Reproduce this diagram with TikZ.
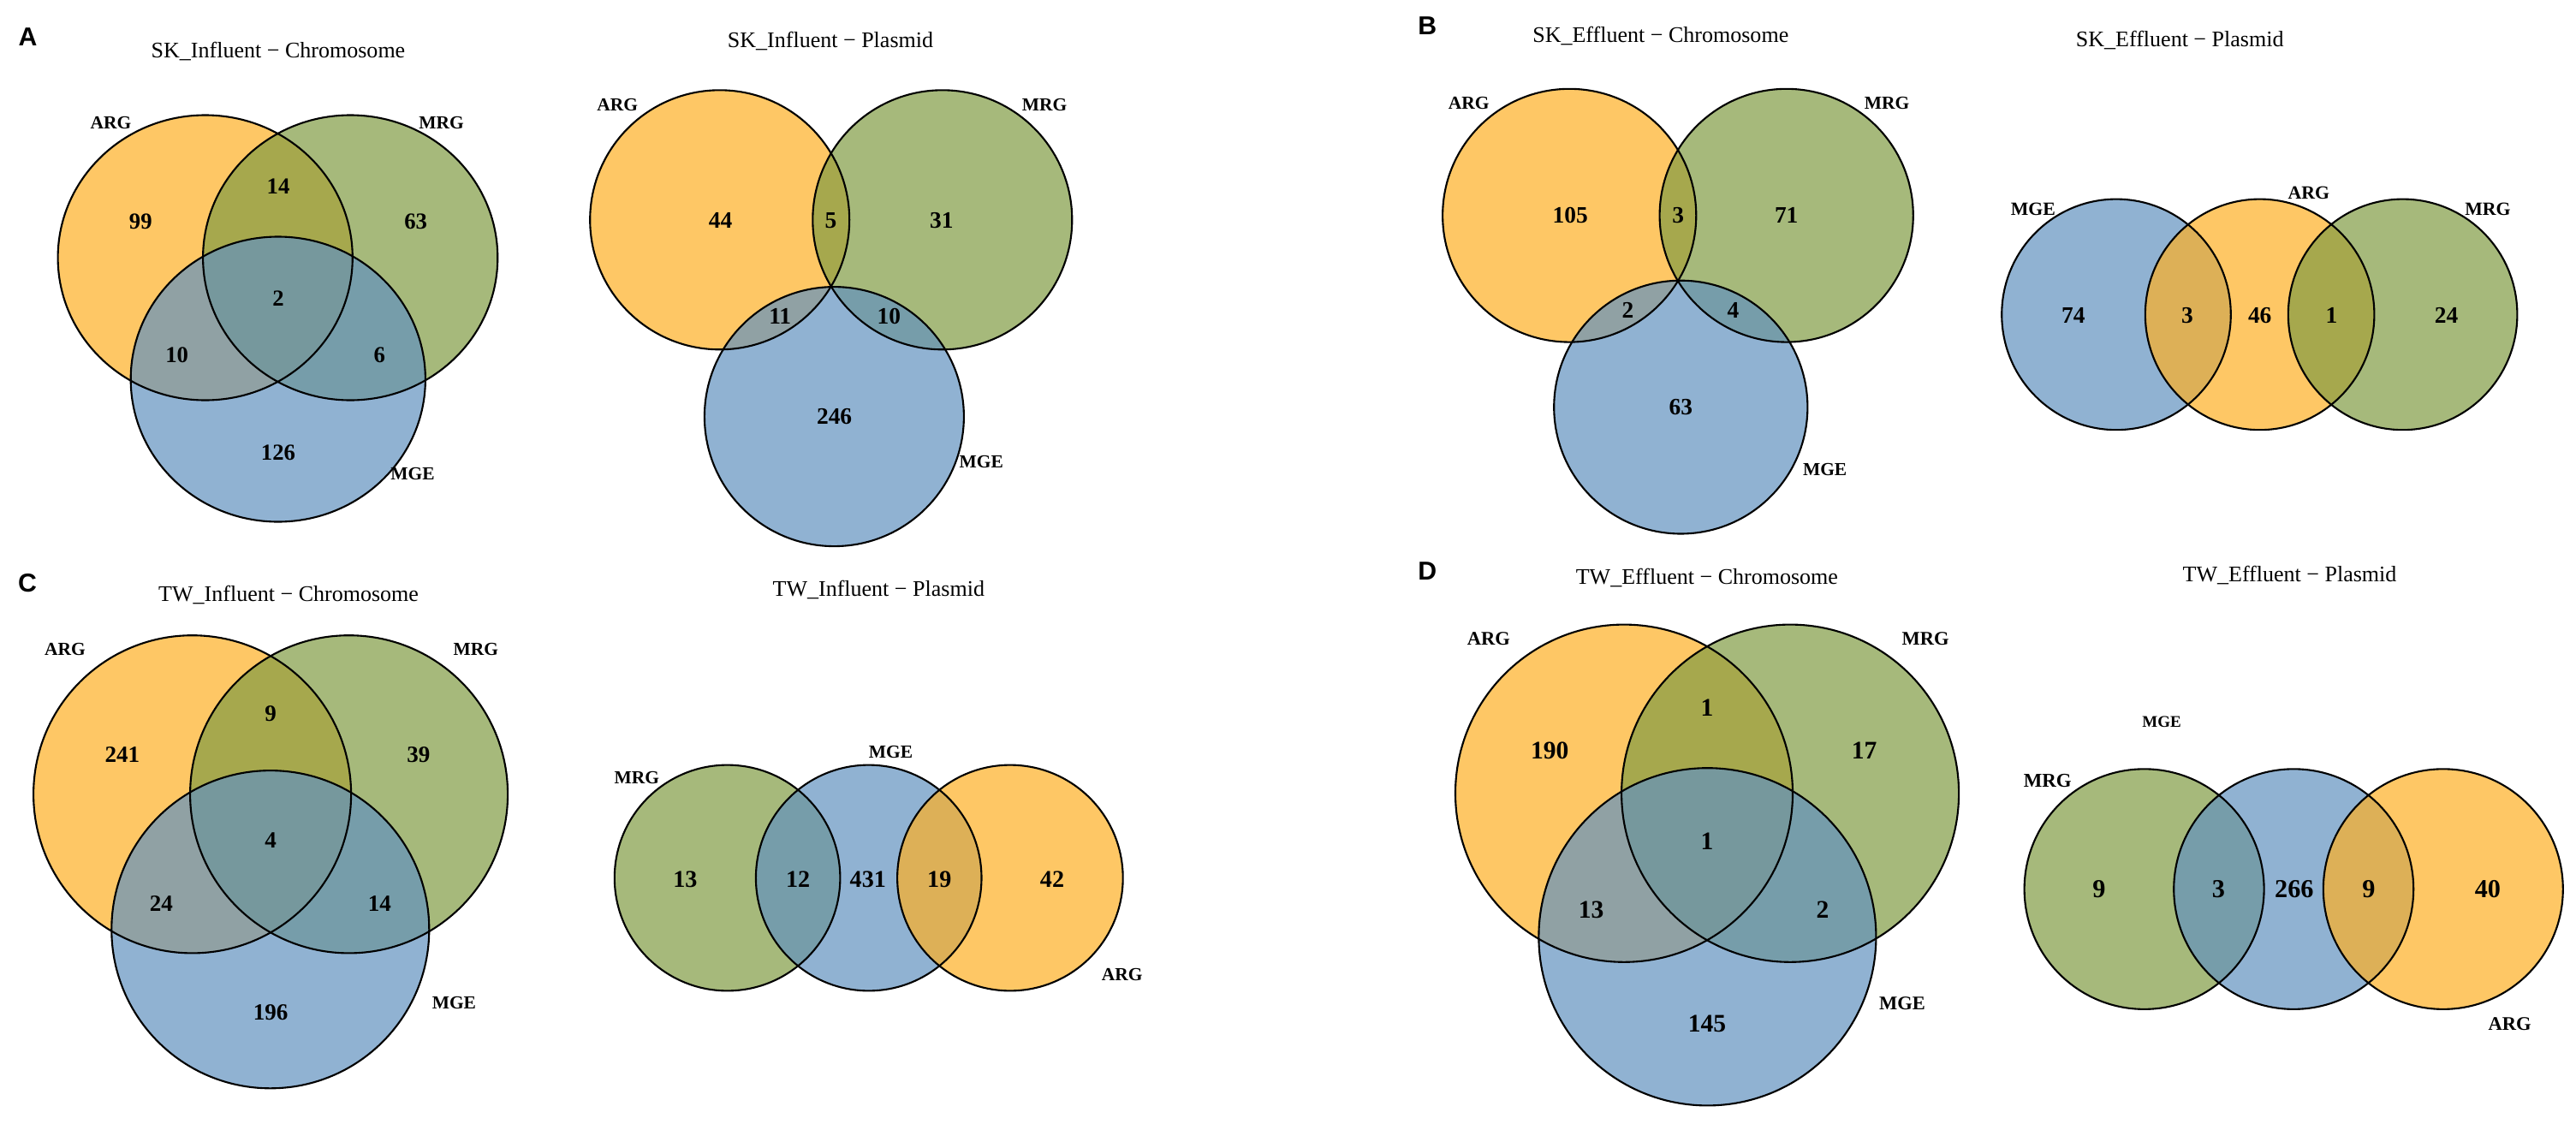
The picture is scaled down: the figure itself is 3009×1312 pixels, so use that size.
\documentclass[tikz,border=0pt]{standalone}
\usepackage{fontspec}
\setmainfont{Liberation Serif}
\newfontfamily\panelfont{Liberation Sans}
\definecolor{argc}{RGB}{254,176,36}
\definecolor{mrgc}{RGB}{129,156,68}
\definecolor{mgec}{RGB}{98,146,191}
\newcommand\vennfill[5]{\fill[#1,fill opacity=0.7] (#2,#3) ellipse [x radius=#4cm, y radius=#5cm];}
\newcommand\vennline[4]{\draw[outl] (#1,#2) ellipse [x radius=#3cm, y radius=#4cm];}
\begin{document}
\begin{tikzpicture}[x=0.01cm,y=-0.01cm,
  outl/.style={draw=black,line width=0.6pt},
  ttl/.style={font=\fontsize{7.4}{8}\selectfont,anchor=base,inner sep=0pt,yshift=-2.45pt},
  num/.style={font=\bfseries\fontsize{#1}{#1}\selectfont,anchor=base,inner sep=0pt,yshift={-0.338*#1pt}},
  lab/.style={font=\bfseries\fontsize{#1}{#1}\selectfont,anchor=base,inner sep=0pt,yshift={-0.335*#1pt}},
  letter/.style={font=\panelfont\bfseries\fontsize{8.6}{9}\selectfont,anchor=base,inner sep=0pt,yshift=-3.1pt}]
\fill[white] (0,0) rectangle (3009,1312);
\useasboundingbox (0,0) rectangle (3009,1312);

% ---------- Panel A: chromosome ----------
\vennfill{argc}{239.7}{301.0}{1.72}{1.664}
\vennfill{mrgc}{409.2}{301.0}{1.72}{1.664}
\vennfill{mgec}{324.8}{443.0}{1.72}{1.664}
\vennline{239.7}{301.0}{1.72}{1.664}
\vennline{409.2}{301.0}{1.72}{1.664}
\vennline{324.8}{443.0}{1.72}{1.664}
\node[letter] (la) at (32.6,42.1) {A};
\node[ttl] (ta) at (325,58.9) {SK\_Influent − Chromosome};
\node[lab=6.1] (aL1) at (129.5,143.1) {ARG};
\node[lab=6.1] (aL2) at (515.6,143.1) {MRG};
\node[lab=6.1] (aL3) at (482.1,553.5) {MGE};
\node[num=7.6] (a1) at (164.3,258.9) {99};
\node[num=7.6] (a2) at (325,217.6) {14};
\node[num=7.6] (a3) at (485.7,258.9) {63};
\node[num=7.6] (a4) at (325,348.5) {2};
\node[num=7.6] (a5) at (206.7,414.6) {10};
\node[num=7.6] (a6) at (443.3,414.6) {6};
\node[num=7.6] (a7) at (325,528.2) {126};

% ---------- Panel A: plasmid ----------
\vennfill{argc}{840.7}{256.8}{1.514}{1.514}
\vennfill{mrgc}{1100.8}{256.8}{1.514}{1.514}
\vennfill{mgec}{974.4}{486.6}{1.514}{1.514}
\vennline{840.7}{256.8}{1.514}{1.514}
\vennline{1100.8}{256.8}{1.514}{1.514}
\vennline{974.4}{486.6}{1.514}{1.514}
\node[ttl] (tap) at (970,47.1) {SK\_Influent − Plasmid};
\node[lab=6.1] (apL1) at (721.3,122.1) {ARG};
\node[lab=6.1] (apL2) at (1220,122.1) {MRG};
\node[lab=6.1] (apL3) at (1146.2,539.6) {MGE};
\node[num=7.8] (ap1) at (841.5,257.6) {44};
\node[num=7.8] (ap2) at (970.4,257.6) {5};
\node[num=7.8] (ap3) at (1099.8,257.6) {31};
\node[num=7.8] (ap4) at (911.2,369.6) {11};
\node[num=7.8] (ap5) at (1038.4,369.6) {10};
\node[num=7.8] (ap6) at (974.6,486.2) {246};

% ---------- Panel B: chromosome ----------
\vennfill{argc}{1833.2}{251.7}{1.48}{1.478}
\vennfill{mrgc}{2086.7}{251.7}{1.48}{1.478}
\vennfill{mgec}{1963.3}{475.6}{1.48}{1.478}
\vennline{1833.2}{251.7}{1.48}{1.478}
\vennline{2086.7}{251.7}{1.48}{1.478}
\vennline{1963.3}{475.6}{1.48}{1.478}
\node[letter] (lb) at (1667.3,29.5) {B};
\node[ttl] (tb) at (1939.8,40.8) {SK\_Effluent − Chromosome};
\node[lab=6.1] (bL1) at (1715.8,120) {ARG};
\node[lab=6.1] (bL2) at (2204.1,120) {MRG};
\node[lab=6.1] (bL3) at (2131.6,548) {MGE};
\node[num=7.8] (b1) at (1834.2,251.7) {105};
\node[num=7.8] (b2) at (1960.2,251.7) {3};
\node[num=7.8] (b3) at (2086.7,251.7) {71};
\node[num=7.8] (b4) at (1901.5,362) {2};
\node[num=7.8] (b5) at (2024.5,362) {4};
\node[num=7.8] (b6) at (1963.3,474.8) {63};

% ---------- Panel B: plasmid ----------
\vennfill{mgec}{2472}{367.4}{1.337}{1.347}
\vennfill{argc}{2639.6}{367.4}{1.337}{1.347}
\vennfill{mrgc}{2806.6}{367.4}{1.337}{1.347}
\vennline{2472}{367.4}{1.337}{1.347}
\vennline{2639.6}{367.4}{1.337}{1.347}
\vennline{2806.6}{367.4}{1.337}{1.347}
\node[ttl] (tbp) at (2546.2,46.3) {SK\_Effluent − Plasmid};
\node[lab=6.2] (bpL1) at (2374.9,244.1) {MGE};
\node[lab=6.2] (bpL2) at (2696.8,225.2) {ARG};
\node[lab=6.2] (bpL3) at (2905.9,244.1) {MRG};
\node[num=7.8] (bp1) at (2421.8,368.3) {74};
\node[num=7.8] (bp2) at (2555,368.3) {3};
\node[num=7.8] (bp3) at (2639.7,368.3) {46};
\node[num=7.8] (bp4) at (2723.4,368.3) {1};
\node[num=7.8] (bp5) at (2857.5,368.3) {24};

% ---------- Panel C: chromosome ----------
\vennfill{argc}{224.6}{927.8}{1.854}{1.855}
\vennfill{mrgc}{407.6}{927.8}{1.854}{1.855}
\vennfill{mgec}{315.8}{1085.7}{1.854}{1.855}
\vennline{224.6}{927.8}{1.854}{1.855}
\vennline{407.6}{927.8}{1.854}{1.855}
\vennline{315.8}{1085.7}{1.854}{1.855}
\node[letter] (lc) at (32.1,680.7) {C};
\node[ttl] (tc) at (337.1,693.6) {TW\_Influent − Chromosome};
\node[lab=6.1] (cL1) at (75.9,757.9) {ARG};
\node[lab=6.1] (cL2) at (555.8,757.9) {MRG};
\node[lab=6.1] (cL3) at (530.4,1171.4) {MGE};
\node[num=7.7] (c1) at (142.9,880.9) {241};
\node[num=7.7] (c2) at (316.1,833.7) {9};
\node[num=7.7] (c3) at (488.8,880.9) {39};
\node[num=7.7] (c4) at (316.1,981.6) {4};
\node[num=7.7] (c5) at (188.4,1054.9) {24};
\node[num=7.7] (c6) at (443.3,1054.9) {14};
\node[num=7.7] (c7) at (316.1,1182.1) {196};

% ---------- Panel C: plasmid ----------
\vennfill{mrgc}{849.6}{1025.5}{1.317}{1.318}
\vennfill{mgec}{1014.7}{1025.5}{1.317}{1.318}
\vennfill{argc}{1179.9}{1025.5}{1.317}{1.318}
\vennline{849.6}{1025.5}{1.317}{1.318}
\vennline{1014.7}{1025.5}{1.317}{1.318}
\vennline{1179.9}{1025.5}{1.317}{1.318}
\node[ttl] (tcp) at (1026.3,688) {TW\_Influent − Plasmid};
\node[lab=6.1] (cpL1) at (743.8,907.9) {MRG};
\node[lab=6.1] (cpL2) at (1040.6,878.7) {MGE};
\node[lab=6.1] (cpL3) at (1310.7,1138) {ARG};
\node[num=8] (cp1) at (800.4,1026.6) {13};
\node[num=8] (cp2) at (932.1,1026.6) {12};
\node[num=8] (cp3) at (1013.8,1026.6) {431};
\node[num=8] (cp4) at (1097.3,1026.6) {19};
\node[num=8] (cp5) at (1229,1026.6) {42};

% ---------- Panel D: chromosome ----------
\vennfill{argc}{1897}{926.7}{1.969}{1.97}
\vennfill{mrgc}{2091.1}{926.7}{1.969}{1.97}
\vennfill{mgec}{1994.4}{1094.3}{1.969}{1.97}
\vennline{1897}{926.7}{1.969}{1.97}
\vennline{2091.1}{926.7}{1.969}{1.97}
\vennline{1994.4}{1094.3}{1.969}{1.97}
\node[letter] (ld) at (1667.3,666.6) {D};
\node[ttl] (td) at (1993.9,673.4) {TW\_Effluent − Chromosome};
\node[lab=6.4] (dL1) at (1738.8,746.3) {ARG};
\node[lab=6.4] (dL2) at (2249,746.3) {MRG};
\node[lab=6.4] (dL3) at (2221.9,1172.3) {MGE};
\node[num=8.4] (d1) at (1810.2,876.6) {190};
\node[num=8.4] (d2) at (1993.9,826.4) {1};
\node[num=8.4] (d3) at (2177.6,876.6) {17};
\node[num=8.4] (d4) at (1993.9,982.9) {1};
\node[num=8.4] (d5) at (1858.7,1062.1) {13};
\node[num=8.4] (d6) at (2129.1,1062.1) {2};
\node[num=8.4] (d7) at (1993.9,1195) {145};

% ---------- Panel D: plasmid ----------
\vennfill{mrgc}{2504.6}{1038.6}{1.399}{1.402}
\vennfill{mgec}{2679.2}{1038.6}{1.399}{1.402}
\vennfill{argc}{2853.8}{1038.6}{1.399}{1.402}
\vennline{2504.6}{1038.6}{1.399}{1.402}
\vennline{2679.2}{1038.6}{1.399}{1.402}
\vennline{2853.8}{1038.6}{1.399}{1.402}
\node[ttl] (tdp) at (2674.5,670.9) {TW\_Effluent − Plasmid};
\node[lab=5.4] (dpL1) at (2525,843.6) {MGE};
\node[lab=6.5] (dpL2) at (2391.8,912.1) {MRG};
\node[lab=6.4] (dpL3) at (2931.5,1195.9) {ARG};
\node[num=8.6] (dp1) at (2451.9,1038.6) {9};
\node[num=8.6] (dp2) at (2591.3,1038.6) {3};
\node[num=8.6] (dp3) at (2679.8,1038.6) {266};
\node[num=8.6] (dp4) at (2767,1038.6) {9};
\node[num=8.6] (dp5) at (2905.9,1038.6) {40};
\end{tikzpicture}
\end{document}
